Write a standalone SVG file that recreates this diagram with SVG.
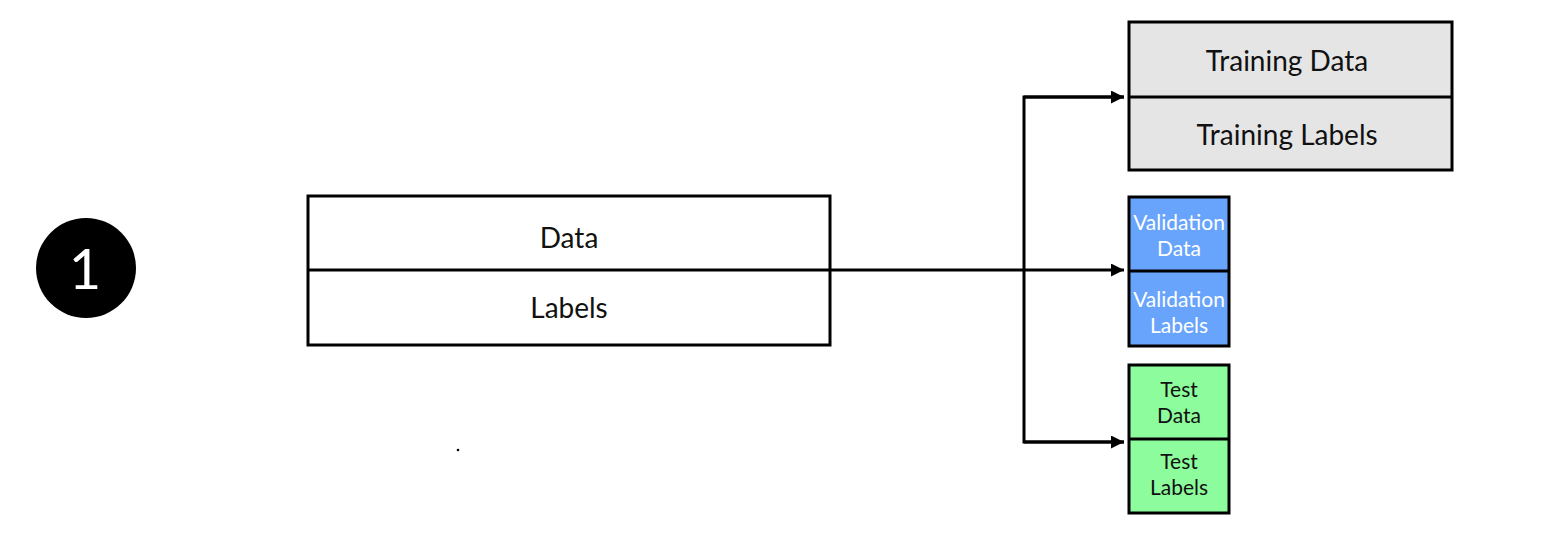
<svg xmlns="http://www.w3.org/2000/svg" width="1543" height="553" viewBox="0 0 1543 553">
<style>
.box{stroke:#000;stroke-width:3;}
.t{font-family:Lato,"Liberation Sans",sans-serif;text-anchor:middle;fill:#111;}
.L{font-size:28px;}
.S{font-size:21px;}
.w{fill:#fff;}
.c{fill:none;stroke:#000;stroke-width:3;}
</style>
<defs>
<marker id="ah" viewBox="0 0 10 10" refX="10" refY="5" markerWidth="16" markerHeight="13" markerUnits="userSpaceOnUse" orient="auto">
<path d="M0,0 L10,5 L0,10 z" fill="#000"/>
</marker>
</defs>
<rect width="1543" height="553" fill="#fff"/>
<g id="step1">
<circle cx="86" cy="268" r="50" fill="#000"/>
<text class="t w" x="85" y="289" font-size="56">1</text>
</g>
<g id="source">
<rect class="box" x="308" y="196" width="522" height="149" fill="#fff"/>
<text class="t L" x="569" y="248">Data</text>
<text class="t L" x="569" y="318">Labels</text>
</g>
<g id="training">
<rect class="box" x="1129" y="22" width="323" height="148" fill="#e5e5e5"/>
<line class="box" x1="1129" y1="97" x2="1452" y2="97"/>
<text class="t L" x="1287" y="71">Training Data</text>
<text class="t L" x="1287" y="145">Training Labels</text>
</g>
<g id="validation">
<rect class="box" x="1129" y="197" width="100" height="149" fill="#68a4fc"/>
<line class="box" x1="1129" y1="271" x2="1229" y2="271"/>
<text class="t S w" x="1179" y="230">Validation</text>
<text class="t S w" x="1179" y="256">Data</text>
<text class="t S w" x="1179" y="307">Validation</text>
<text class="t S w" x="1179" y="333">Labels</text>
</g>
<g id="test">
<rect class="box" x="1129" y="365" width="100" height="148" fill="#8cfc9c"/>
<line class="box" x1="1129" y1="439" x2="1229" y2="439"/>
<text class="t S" x="1179" y="397">Test</text>
<text class="t S" x="1179" y="423">Data</text>
<text class="t S" x="1179" y="469">Test</text>
<text class="t S" x="1179" y="495">Labels</text>
</g>
<g id="connectors">
<line class="c" x1="308" y1="270" x2="1124" y2="270" marker-end="url(#ah)"/>
<polyline class="c" points="1124,97 1024,97 1024,442 1124,442"/>
<line class="c" x1="1024" y1="97" x2="1124" y2="97" marker-end="url(#ah)"/>
<line class="c" x1="1024" y1="442" x2="1124" y2="442" marker-end="url(#ah)"/>
</g>
<circle cx="458" cy="450" r="1.3" fill="#000"/>
</svg>
